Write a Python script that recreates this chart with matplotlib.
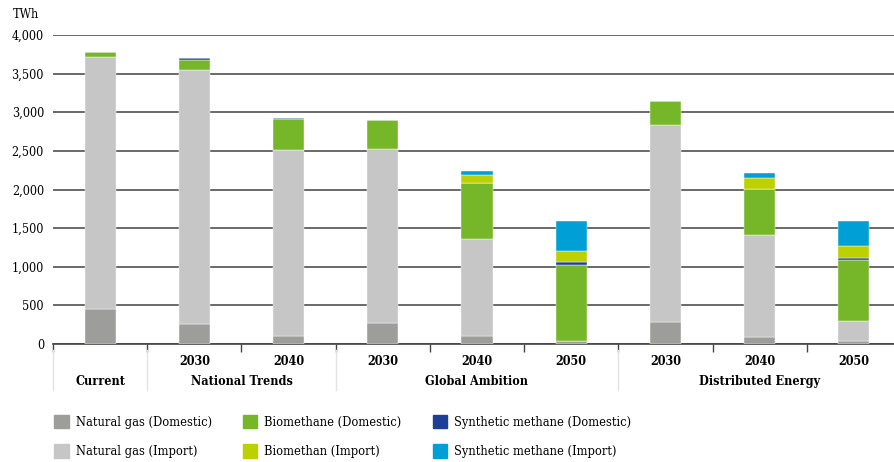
import matplotlib.pyplot as plt
from matplotlib.patches import Patch

# dados (TWh)
years = ["", "2030", "2040", "2030", "2040", "2050", "2030", "2040", "2050"]
groups = ["Current", "National Trends", "Global Ambition", "Distributed Energy"]
group_centers = [0, 1.5, 4, 7]
group_edges = [-0.5, 0.5, 2.5, 5.5]

ng_dom = [450, 255, 104, 276, 104, 39, 280, 91, 43]
ng_imp = [3260, 3287, 2406, 2247, 1250, 0, 2554, 1319, 255]
bio_dom = [70, 137, 400, 371, 725, 983, 306, 596, 790]
syn_dom = [0, 22, 21, 0, 10, 39, 0, 0, 23]
bio_imp = [0, 0, 0, 0, 94, 142, 0, 142, 158]
syn_imp = [0, 0, 0, 0, 56, 385, 0, 69, 320]

series = [
    ("Natural gas (Domestic)", ng_dom, "#9d9d9c"),
    ("Natural gas (Import)", ng_imp, "#c6c6c6"),
    ("Biomethane (Domestic)", bio_dom, "#76b72a"),
    ("Synthetic methane (Domestic)", syn_dom, "#1d3f94"),
    ("Biomethan (Import)", bio_imp, "#bdd000"),
    ("Synthetic methane (Import)", syn_imp, "#00a0d6"),
]

plt.rcParams['font.family'] = ['DejaVu Serif']
plt.rcParams['font.stretch'] = 'condensed'
plt.rcParams['font.size'] = 9

fig = plt.figure(figsize=(8.95, 4.62), dpi=100)
ax = fig.add_axes([53 / 895, 118 / 462, 848 / 895, 309 / 462])

x = list(range(len(years)))
bottom = [0] * len(x)
handles = {}
for name, vals, col in series:
    ax.bar(x, vals, 0.33, bottom=bottom, color=col, edgecolor="white", linewidth=0.3, zorder=3)
    bottom = [b + v for b, v in zip(bottom, vals)]
    handles[name] = Patch(color=col, label=name)

ax.set_xlim(-0.5, 8.5)
ax.set_ylim(0, 4000)
ax.set_yticks(range(0, 4001, 500))
ax.set_yticklabels([f"{v:,}" for v in range(0, 4001, 500)])
ax.yaxis.grid(True, color="#5e5e5e", linewidth=1.3, zorder=0)
ax.tick_params(axis="y", length=0, pad=6.5, labelsize=9)
for s in ["top", "right", "left"]:
    ax.spines[s].set_visible(False)
ax.spines["bottom"].set_color("#444444")
ax.spines["bottom"].set_linewidth(1.2)

ax.set_xticks([i - 0.5 for i in range(9)])
ax.set_xticklabels([])
ax.tick_params(axis="x", length=6, color="#444444", width=1)

for i, yr in enumerate(years):
    ax.text(i, -225, yr, ha="center", va="center", fontweight="bold", fontsize=9)
for c, g in zip(group_centers, groups):
    ax.text(c, -480, g, ha="center", va="center", fontweight="bold", fontsize=9)
for e in group_edges:
    ax.plot([e, e], [-80, -600], color="#e3e3e3", linewidth=1, clip_on=False)

fig.text(13 / 895, 1 - 15 / 462, "TWh", ha="left", va="center", fontsize=9)

order = ["Natural gas (Domestic)", "Natural gas (Import)", "Biomethane (Domestic)",
         "Biomethan (Import)", "Synthetic methane (Domestic)", "Synthetic methane (Import)"]
fig.legend(handles=[handles[n] for n in order], loc="upper left",
           bbox_to_anchor=(43 / 895, 1 - 403 / 462), ncol=3, frameon=False,
           handlelength=1.1, handleheight=1.3, handletextpad=0.55,
           columnspacing=2.45, labelspacing=1.2, fontsize=9.2)

fig.savefig("out.png", dpi=100)
